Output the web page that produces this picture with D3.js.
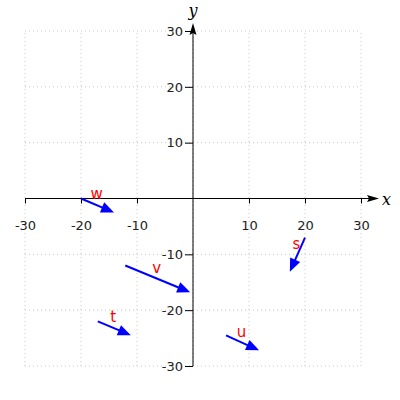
<!DOCTYPE html>
<html>
<head>
<meta charset="utf-8">
<script src="https://cdn.jsdelivr.net/npm/d3@7"></script>
<style>
  body { margin: 0; background: #fff; }
</style>
</head>
<body>
<svg id="chart"></svg>
<script>
// vector data: names, start points, end points
const names = ["w", "v", "t", "u", "s"];
const x0 = [-20, -12.1, -17.0, 5.9, 20.0];
const y0 = [0, -12.0, -22.0, -24.5, -7.0];
const x1 = [-14.1, -0.5, -11.1, 11.8, 17.3];
const y1 = [-2.5, -16.8, -24.5, -27.2, -13.1];
const tickVals = [-30, -20, -10, 10, 20, 30];
const gridVals = [-30, -20, -10, 0, 10, 20, 30];

const canvWidth = 400;
const canvHeight = 400;

const svg = d3.select("#chart")
    .attr("width", canvWidth)
    .attr("height", canvHeight);

// scales
const x = d3.scaleLinear().domain([-30, 30]).range([25, 361]);
const y = d3.scaleLinear().domain([-30, 30]).range([366, 31]);

// dotted grid
svg.append("g").selectAll("line")
    .data(gridVals)
    .enter().append("line")
    .attr("x1", d => x(d)).attr("x2", d => x(d))
    .attr("y1", y(-30)).attr("y2", y(30))
    .attr("stroke", "#c8c8c8")
    .attr("stroke-dasharray", "1,3");
svg.append("g").selectAll("line")
    .data(gridVals)
    .enter().append("line")
    .attr("y1", d => y(d)).attr("y2", d => y(d))
    .attr("x1", x(-30)).attr("x2", x(30))
    .attr("stroke", "#c8c8c8")
    .attr("stroke-dasharray", "1,3");

// axes through origin
const xAxis = svg.append("g")
    .attr("transform", "translate(0," + y(0) + ")")
    .call(d3.axisBottom(x).tickValues(tickVals).tickSize(5).tickPadding(17).tickSizeOuter(0));
xAxis.select(".domain").remove();

const yAxis = svg.append("g")
    .attr("transform", "translate(" + x(0) + ",0)")
    .call(d3.axisLeft(y).tickValues(tickVals).tickSize(8).tickPadding(2).tickSizeOuter(0));
yAxis.select(".domain").remove();

svg.selectAll(".tick text")
    .attr("font-family", "DejaVu Sans, sans-serif")
    .attr("font-size", 13)
    .attr("fill", "#222")
    .text(d => d < 0 ? "-" + Math.abs(d) : d);
svg.selectAll(".tick line").attr("stroke", "#000");

// axis lines with arrow heads
svg.append("line")
    .attr("x1", x(-30)).attr("x2", 370)
    .attr("y1", y(0)).attr("y2", y(0))
    .attr("stroke", "#000").attr("stroke-width", 1);
svg.append("path")
    .attr("d", "M379," + y(0) + "L367," + (y(0) - 3.5) + "L369," + y(0) + "L367," + (y(0) + 3.5) + "Z")
    .attr("fill", "#000");
svg.append("line")
    .attr("x1", x(0)).attr("x2", x(0))
    .attr("y1", y(-30)).attr("y2", 32)
    .attr("stroke", "#000").attr("stroke-width", 1);
svg.append("path")
    .attr("d", "M" + x(0) + ",23L" + (x(0) - 3.5) + ",35L" + x(0) + ",33L" + (x(0) + 3.5) + ",35Z")
    .attr("fill", "#000");

svg.append("text")
    .attr("x", 382).attr("y", y(0) + 6)
    .attr("font-family", "DejaVu Serif, serif")
    .attr("font-style", "italic")
    .attr("font-size", 16)
    .text("x");
svg.append("text")
    .attr("x", x(0)).attr("y", 16)
    .attr("text-anchor", "middle")
    .attr("font-family", "DejaVu Serif, serif")
    .attr("font-style", "italic")
    .attr("font-size", 16)
    .text("y");

// vectors
const vecs = names.map((n, i) => ({ name: n, x0: x0[i], y0: y0[i], x1: x1[i], y1: y1[i] }));

function arrowPath(d) {
    const ax = x(d.x0), ay = y(d.y0), bx = x(d.x1), by = y(d.y1);
    const dx = bx - ax, dy = by - ay;
    const len = Math.sqrt(dx * dx + dy * dy);
    const ux = dx / len, uy = dy / len;
    const hl = 13, hw = 5.5;
    const cx = bx - ux * hl, cy = by - uy * hl;
    return "M" + bx + "," + by +
        "L" + (cx - uy * hw) + "," + (cy + ux * hw) +
        "L" + (cx + uy * hw) + "," + (cy - ux * hw) + "Z";
}

// shaft stops inside the head
function shaftEnd(d) {
    const ax = x(d.x0), bx = x(d.x1), ay = y(d.y0), by = y(d.y1);
    const len = Math.hypot(bx - ax, by - ay);
    return [bx - (bx - ax) / len * 8, by - (by - ay) / len * 8];
}

const g = svg.append("g");
g.selectAll(".shaft")
    .data(vecs)
    .enter().append("line")
    .attr("class", "shaft")
    .attr("x1", d => x(d.x0)).attr("y1", d => y(d.y0))
    .attr("x2", d => shaftEnd(d)[0])
    .attr("y2", d => shaftEnd(d)[1])
    .attr("stroke", "#0000ff")
    .attr("stroke-width", 2);
g.selectAll(".head")
    .data(vecs)
    .enter().append("path")
    .attr("class", "head")
    .attr("d", arrowPath)
    .attr("fill", "#0000ff");

g.selectAll(".lbl")
    .data(vecs)
    .enter().append("text")
    .attr("class", "lbl")
    .attr("x", d => (x(d.x0) + x(d.x1)) / 2 - 1)
    .attr("y", d => (y(d.y0) + y(d.y1)) / 2 - 6)
    .attr("text-anchor", "middle")
    .attr("font-family", "DejaVu Sans, sans-serif")
    .attr("font-size", 15)
    .attr("fill", "#ff0000")
    .text(d => d.name);
</script>
</body>
</html>
